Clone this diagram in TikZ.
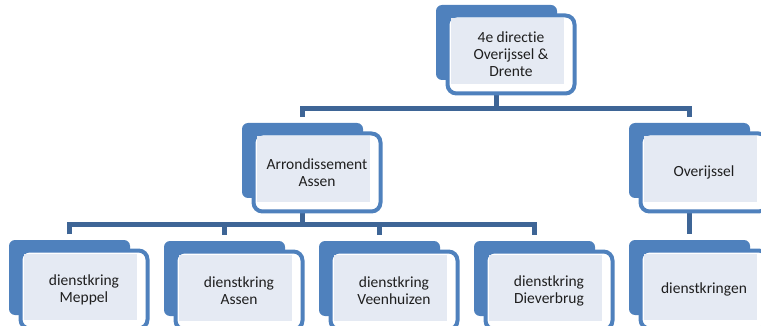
\documentclass[tikz,border=0pt]{standalone}
\usepackage{fontspec}
\setmainfont{Carlito}[Ligatures=NoCommon]
\usetikzlibrary{backgrounds}
\definecolor{accent}{HTML}{4F81BD}
\definecolor{linkblue}{HTML}{3E6596}
\definecolor{dotfill}{HTML}{E5EAF3}
\tikzset{
  backbox/.style={fill=accent, draw=none, rounded corners=6pt,
    minimum width=121pt, minimum height=75pt, inner sep=0pt},
  frontbox/.style={fill=white, draw=accent, line width=4pt, rounded corners=9pt,
    minimum width=127pt, minimum height=78pt, inner sep=0pt},
  textarea/.style={fill=dotfill, draw=none, minimum width=113pt,
    minimum height=66pt, inner sep=0pt},
  boxtext/.style={align=center, inner sep=0pt,
    font=\fontsize{15.5}{17}\selectfont, text=black!88},
  conn/.style={draw=linkblue, line width=5.5pt, line join=miter},
}
% one organisation unit: #1 name, (#2,#3) top-left of the back panel, #4 text
\newcommand\orgunit[4]{%
  \node[backbox]  (#1b) at ({#2+60.5},{#3+37.5}) {};
  \node[frontbox] (#1)  at ({#2+75},{#3+49.5}) {};
  \node[textarea] (#1h) at ({#2+71},{#3+46.5}) {};
  \node[boxtext]  (#1t) at ({#2+75},{#3+49.5}) {#4};
}
\begin{document}
\begin{tikzpicture}[x=1pt,y=-1pt]
  \useasboundingbox (0,0) rectangle (761,326);
  \clip (0,0) rectangle (761,326);

  % units
  \orgunit{dir}{436}{5}{4e directie\\Overijssel \&\\Drente}
  \orgunit{arr}{242}{123}{Arrondissement\\Assen}
  \orgunit{ovr}{629}{123}{Overijssel}
  \orgunit{mep}{9}{240}{dienstkring\\Meppel}
  \orgunit{ass}{164}{241}{dienstkring\\Assen}
  \orgunit{vee}{319}{241}{dienstkring\\Veenhuizen}
  \orgunit{die}{474}{241}{dienstkring\\Dieverbrug}
  \orgunit{dkr}{629}{240}{dienstkringen}

  % junction levels of the elbow connectors
  \coordinate (j1) at (496.5,108.5);
  \coordinate (j2) at (302.5,224.5);

  \begin{pgfonlayer}{background}
    % directie -> arrondissement, Overijssel
    \draw[conn] (dir.center -| dirb.center) -- (j1);
    \draw[conn] ([yshift=6pt]arrb.north) |- (j1) -| ([yshift=6pt]ovrb.north);
    % arrondissement -> dienstkringen
    \draw[conn] (arr.center -| arrb.center) -- (j2);
    \draw[conn] ([yshift=5.5pt]mepb.north) |- (j2) -| ([yshift=5.5pt]dieb.north);
    \draw[conn] (j2 -| assb.north) -- ([yshift=5.5pt]assb.north);
    \draw[conn] (j2 -| veeb.north) -- ([yshift=5.5pt]veeb.north);
    % Overijssel -> dienstkringen
    \draw[conn] (ovr.center -| ovrb.center) -- ([yshift=5.5pt]dkrb.north);
  \end{pgfonlayer}
\end{tikzpicture}
\end{document}
